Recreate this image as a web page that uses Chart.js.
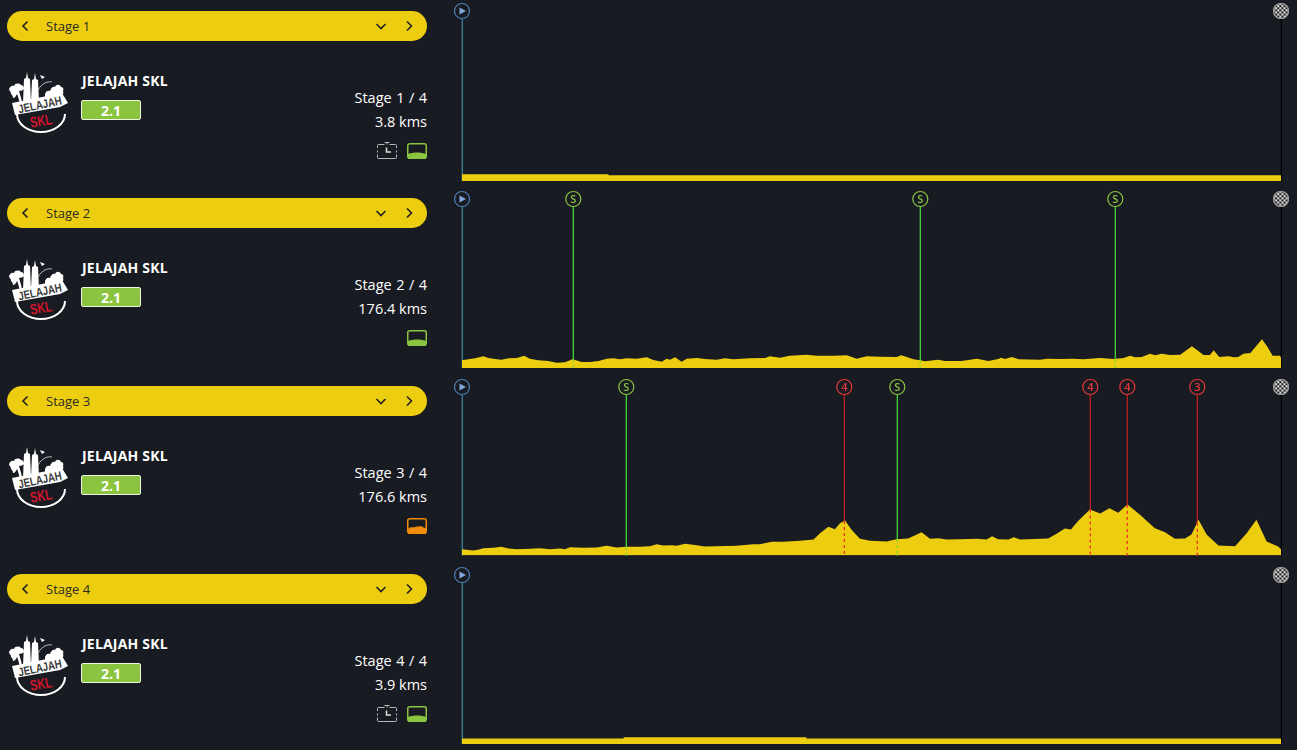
<!DOCTYPE html>
<html>
<head>
<meta charset="utf-8">
<title>Jelajah SKL</title>
<script src="https://cdn.jsdelivr.net/npm/chart.js@4"></script>
<style>
    html, body { margin: 0; padding: 0; background: #191b22; overflow: hidden; }
    body { position: relative; width: 1297px; height: 750px; font-family: "Open Sans", sans-serif; color: #fff; }
    .row { position: absolute; left: 0; width: 440px; height: 188px; }
    .pill { position: absolute; left: 7px; top: 11px; width: 420px; height: 30px; border-radius: 15px; background: #edcd0f; }
    .pill-label { position: absolute; left: 39px; top: 0; line-height: 30px; font-size: 13px; color: #2a2a22; }
    .pill svg { position: absolute; top: 8px; width: 14px; height: 14px; fill: none; stroke: #222; stroke-width: 1.6; }
    .logo { position: absolute; left: 8px; top: 70px; width: 62px; height: 64px; }
    .race { position: absolute; left: 82px; top: 71px; font-size: 14px; line-height: 20px; font-weight: 700; letter-spacing: 0.2px; }
    .badge { position: absolute; left: 81px; top: 100px; width: 58px; height: 18px; border: 1px solid #eef5e2; border-radius: 2px; background: #8bc43f; text-align: center; font-size: 14px; line-height: 19px; font-weight: 700; }
    .stage-no, .stage-km { position: absolute; right: 13px; font-size: 14.5px; line-height: 20px; white-space: nowrap; }
    .stage-no { top: 88px; word-spacing: 0.7px; }
    .stage-km { top: 112px; }
    .icon { position: absolute; top: 142px; width: 20px; height: 18px; }
    canvas { position: absolute; left: 450px; }
</style>
</head>
<body>
<svg width="0" height="0" style="position:absolute">
    <symbol id="logo" viewBox="0 0 62 64">
        <path d="M19 2l1 6 2 1 1 24h-8l1-24 2-1zM27 3l1 6 2 1 1 22h-8l1-22 2-1z" fill="#fff"/>
        <path d="M32 5l5 2-3 2z" fill="#fff"/>
        <path d="M30 20c4-7 10-9 14-8" fill="none" stroke="#fff" stroke-width="0.7"/>
        <path d="M37 24c1-3 3-4 5-3 1-3 3-5 5-4 1-3 5-3 6 0 2 0 3 2 2 4 1 2 0 4-2 4l-15 4c-1-1-1-3-1-5z" fill="#fff"/>
        <path d="M1 20c0-3 3-5 5-4 1-3 5-3 7-1 2 0 3 2 3 4-1 1-3 2-5 2 1 4 3 8 3 13h-2c-1-4-2-8-3-10-1 2-2 4-4 4 0-2-1-3-2-4 0-2-1-3-2-4z" fill="#fff"/>
        <path d="M9 44a24 18 0 0 0 48 0z" fill="#191b22" stroke="none"/>
        <path d="M9 44a24 18 0 0 0 48 0" fill="none" stroke="#fff" stroke-width="2"/>
        <path d="M4 33l50-10 6 10-8 4-45 8z" fill="#fff"/>
        <text x="32" y="39" transform="rotate(-12 32 35)" text-anchor="middle" textLength="44" lengthAdjust="spacingAndGlyphs" font-family="Liberation Sans Narrow, Liberation Sans" font-size="12" font-weight="700" fill="#3a3a3a">JELAJAH</text>
        <text x="33" y="56" transform="rotate(-10 33 51)" text-anchor="middle" textLength="22" lengthAdjust="spacingAndGlyphs" font-family="Liberation Sans Narrow, Liberation Sans" font-size="15" font-weight="700" fill="#d2142c">SKL</text>
    </symbol>
    <symbol id="clock" viewBox="0 0 20 18">
        <path d="M0.500 6V3.500a1 1 0 0 1 1-1h6M12.500 2.500h6a1 1 0 0 1 1 1V6M19.500 8.500v2M19.500 12.500v3a1 1 0 0 1-1 1h-17a1 1 0 0 1-1-1v-3M0.500 8.500v2" fill="none" stroke="#b8b8b8" stroke-width="1"/>
        <path d="M7.500 0.500h5M10 0.500v2" stroke="#b8b8b8" stroke-width="1"/>
        <path d="M9.500 5.500v4.500h4.500" fill="none" stroke="#ddd" stroke-width="1.500"/>
    </symbol>
</svg>

<script>
// Stage labels and header info
const stageNames = ["Stage 1", "Stage 2", "Stage 3", "Stage 4"];
const stageCounts = ["Stage 1 / 4", "Stage 2 / 4", "Stage 3 / 4", "Stage 4 / 4"];
const stageKmLabels = ["3.8 kms", "176.4 kms", "176.6 kms", "3.9 kms"];
const stageDistances = [3.8, 176.4, 176.6, 3.9];
const raceName = "JELAJAH SKL";
const raceClass = "2.1";
const hasClock = [true, false, false, true];
const difficultyColors = ["#8bc43f", "#8bc43f", "#f08c0a", "#8bc43f"];

// Stage profiles: distance in km, elevation in m
const stage1Km = [0, 0.68, 0.68, 3.8];
const stage1Elev = [67, 67, 57, 57];

const stage2Km = [0, 0.65, 1.7, 2.8, 4.6, 5.7, 7.1, 8.5, 10, 11.8, 13.4, 14.6, 16.4, 18.6, 20.4, 22.2, 23.8, 25.8, 27.6, 29.4, 31.2, 32.6, 34, 35.5, 37.6, 39.8, 41.2, 43, 44.1, 44.8, 45.9, 47.3, 48.4, 50.6, 52.3, 54.9, 56.6, 58.4, 62, 65.3, 66.3, 68.5, 70.6, 74.2, 76.4, 80, 82.9, 85, 87.2, 90, 93.6, 94.6, 95.8, 97.2, 98.7, 99.7, 102.6, 104, 107.6, 110.9, 113.4, 115.5, 116.1, 117, 118.4, 119.9, 124.5, 126, 128.8, 131.7, 133.9, 137.4, 140.3, 142.5, 143.9, 145, 146.4, 148.2, 149.3, 150.7, 152.5, 154.7, 157.2, 158.6, 159.7, 161.1, 161.9, 163.1, 165.1, 166.2, 167.2, 168.3, 169.8, 172.3, 173.4, 174.6, 176.2, 176.4];
const stage2Elev = [77, 83, 90, 97, 117, 100, 90, 83, 97, 100, 123, 93, 77, 70, 53, 57, 87, 60, 60, 70, 93, 97, 87, 97, 93, 107, 80, 63, 93, 83, 107, 63, 93, 100, 90, 83, 97, 87, 97, 100, 117, 103, 123, 133, 123, 123, 127, 93, 117, 113, 110, 127, 110, 87, 77, 67, 83, 70, 70, 93, 70, 90, 103, 90, 110, 87, 83, 93, 90, 93, 87, 100, 90, 100, 123, 107, 110, 143, 127, 143, 130, 133, 217, 170, 130, 130, 177, 110, 117, 107, 110, 143, 150, 287, 217, 123, 123, 100];

const stage3Km = [0, 1, 2.4, 3.5, 4.6, 6.8, 8.5, 10, 11.8, 14.7, 16.8, 19, 21.1, 22.2, 23.3, 26.2, 29, 31.2, 33.3, 35.5, 38.4, 40.5, 42, 43.4, 45.2, 46.3, 48.1, 50.6, 52.4, 59.2, 62.8, 64.2, 66.8, 69.3, 72.9, 75.8, 77.2, 79, 80.4, 81.5, 82.6, 84, 85.8, 88, 91.6, 93.7, 96.2, 99.1, 100.9, 102.7, 104.5, 107.4, 111, 113.1, 114.3, 115.6, 117.8, 119, 120.3, 126.4, 128.2, 130, 131.3, 132.9, 135.4, 137.6, 139.6, 141.5, 143.5, 146.2, 149.4, 151.6, 153.7, 155.9, 157.3, 158.8, 160.6, 163.1, 166.7, 169.2, 171.3, 173.5, 176, 176.6];
const stage3Elev = [63, 57, 50, 57, 73, 77, 87, 70, 63, 67, 73, 63, 70, 63, 83, 77, 80, 97, 80, 87, 87, 93, 113, 100, 103, 97, 117, 103, 90, 97, 113, 113, 137, 137, 147, 160, 223, 287, 263, 323, 350, 257, 167, 147, 140, 163, 170, 233, 167, 173, 160, 163, 167, 160, 193, 163, 160, 183, 160, 170, 217, 270, 260, 347, 460, 420, 473, 427, 510, 407, 273, 233, 167, 170, 210, 357, 207, 100, 93, 223, 357, 140, 90, 63];

const stage4Km = [0, 0.77, 0.77, 1.64, 1.64, 3.9];
const stage4Elev = [54, 54, 67, 67, 54, 54];

// Intermediate points per stage: km and type ("S" sprint, number = climb category)
const stage1MarkerKm = [];
const stage1MarkerType = [];
const stage2MarkerKm = [23.9, 98.75, 140.6];
const stage2MarkerType = ["S", "S", "S"];
const stage3MarkerKm = [35.3, 82.4, 93.8, 135.4, 143.4, 158.5];
const stage3MarkerType = ["S", "4", "S", "4", "4", "3"];
const stage4MarkerKm = [];
const stage4MarkerType = [];

const profilesKm = [stage1Km, stage2Km, stage3Km, stage4Km];
const profilesElev = [stage1Elev, stage2Elev, stage3Elev, stage4Elev];
const markersKm = [stage1MarkerKm, stage2MarkerKm, stage3MarkerKm, stage4MarkerKm];
const markersType = [stage1MarkerType, stage2MarkerType, stage3MarkerType, stage4MarkerType];

// Layout of the rows on the page
const panelTops = [0, 187, 375, 563];
const chartTops = [0, 188, 376, 564];
const rowBottomPadding = [7, 8, 8.5, 8];
const yMaxima = [1700, 1690, 1685, 1690];

const BG = "#191b22";
const YELLOW = "#edcd0f";
const GREEN = "#8bc43f";
const RED = "#e8383a";

/**
 * Finds the elevation on the profile at given distance
 * @param {Array} km Profile distances
 * @param {Array} elev Profile elevations
 * @param {Number} at Distance
 * @returns {Number} elevation
 */
function _elevationAt(km, elev, at) {
    for (let i = 1; i < km.length; i++) {
        if (at <= km[i]) {
            const span = km[i] - km[i - 1] || 1;
            return elev[i - 1] + ((elev[i] - elev[i - 1]) * (at - km[i - 1])) / span;
        }
    }
    return elev[elev.length - 1];
}

/**
 * Draws round marker with a letter
 */
function _drawBadge(ctx, x, y, color, label) {
    ctx.beginPath();
    ctx.arc(x, y, 7.5, 0, Math.PI * 2);
    ctx.fillStyle = BG;
    ctx.fill();
    ctx.lineWidth = 1.2;
    ctx.strokeStyle = color;
    ctx.stroke();
    ctx.fillStyle = color;
    ctx.font = "600 11px 'Open Sans'";
    ctx.textAlign = "center";
    ctx.textBaseline = "middle";
    ctx.fillText(label, x, y + 0.5);
}

/**
 * Draws start icon
 */
function _drawStart(ctx, x, y) {
    ctx.beginPath();
    ctx.arc(x, y, 7.5, 0, Math.PI * 2);
    ctx.fillStyle = BG;
    ctx.fill();
    ctx.lineWidth = 1.2;
    ctx.strokeStyle = "#4f7fb4";
    ctx.stroke();
    ctx.beginPath();
    ctx.moveTo(x - 2.5, y - 3.5);
    ctx.lineTo(x + 4, y);
    ctx.lineTo(x - 2.5, y + 3.5);
    ctx.closePath();
    ctx.fillStyle = "#7fa8dc";
    ctx.fill();
}

/**
 * Draws checkered finish icon
 */
function _drawFinish(ctx, x, y) {
    ctx.save();
    ctx.beginPath();
    ctx.arc(x, y, 8, 0, Math.PI * 2);
    ctx.clip();
    ctx.fillStyle = "#d8d8d8";
    ctx.fillRect(x - 8, y - 8, 16, 16);
    ctx.fillStyle = "#222";
    for (let i = 0; i < 8; i++) {
        for (let j = 0; j < 8; j++) {
            if ((i + j) % 2 === 0) ctx.fillRect(x - 8 + i * 2.1, y - 8 + j * 2.1, 2.1, 2.1);
        }
    }
    ctx.restore();
    ctx.beginPath();
    ctx.arc(x, y, 7.5, 0, Math.PI * 2);
    ctx.lineWidth = 1.2;
    ctx.strokeStyle = "#9a9a9a";
    ctx.stroke();
}

// Draws start, finish and intermediate points through the chart's scales
const stageMarkers = {
    id: "stageMarkers",
    beforeDatasetsDraw(chart) {
        const { ctx, scales, chartArea } = chart;
        const stage = chart.options.plugins.stageMarkers.stage;
        ctx.save();
        ctx.lineWidth = 1.2;
        const vline = (km, color) => {
            const x = Math.round(scales.x.getPixelForValue(km)) + 0.3;
            ctx.strokeStyle = color;
            ctx.beginPath();
            ctx.moveTo(x, chartArea.top);
            ctx.lineTo(x, chartArea.bottom);
            ctx.stroke();
        };
        vline(0, "#3f8ea6");
        vline(stageDistances[stage], "#000");
        markersKm[stage].forEach((km, i) => {
            vline(km, markersType[stage][i] === "S" ? "#40e838" : "#c82024");
        });
        ctx.restore();
    },
    afterDatasetsDraw(chart) {
        const { ctx, scales, chartArea } = chart;
        const stage = chart.options.plugins.stageMarkers.stage;
        ctx.save();
        markersKm[stage].forEach((km, i) => {
            const x = Math.round(scales.x.getPixelForValue(km)) + 0.3;
            const isSprint = markersType[stage][i] === "S";
            const top = scales.y.getPixelForValue(_elevationAt(profilesKm[stage], profilesElev[stage], km));
            ctx.strokeStyle = isSprint ? "#7fd62a" : "#e8242a";
            ctx.lineWidth = 1.2;
            ctx.setLineDash([3, 3]);
            ctx.beginPath();
            ctx.moveTo(x, top);
            ctx.lineTo(x, chartArea.bottom);
            ctx.stroke();
            ctx.setLineDash([]);
            _drawBadge(ctx, x, chartArea.top, isSprint ? GREEN : RED, markersType[stage][i]);
        });
        _drawStart(ctx, scales.x.getPixelForValue(0), chartArea.top);
        _drawFinish(ctx, scales.x.getPixelForValue(stageDistances[stage]), chartArea.top);
        ctx.restore();
    },
};

/**
 * Creates left panel of one stage
 * @param {Number} stage Stage index
 */
function _createRow(stage) {
    const row = document.createElement("div");
    row.className = "row";
    row.style.top = `${panelTops[stage]}px`;

    const clock = hasClock[stage]
        ? `<svg class="icon" style="left:377px"><use href="#clock"/></svg>`
        : "";
    const color = difficultyColors[stage];
    const hillPath = stage === 2
        ? "M1 12 C4 9 6 11 8 10 C10 9 12 10 14 9 C16 10 17 11 19 11 V17 H1 Z"
        : "M1 12 C6 10 14 10 19 12 V17 H1 Z";

    row.innerHTML = `
        <div class="pill">
            <svg style="left:11px" viewBox="0 0 14 14"><path d="M9.500 2.500 L5 7 L9.500 11.500"/></svg>
            <div class="pill-label">${stageNames[stage]}</div>
            <svg style="left:367px" viewBox="0 0 14 14"><path d="M2.500 5 L7 9.500 L11.500 5"/></svg>
            <svg style="left:395px" viewBox="0 0 14 14"><path d="M5 2.500 L9.500 7 L5 11.500"/></svg>
        </div>
        <svg class="logo"><use href="#logo"/></svg>
        <div class="race">${raceName}</div>
        <div class="badge">${raceClass}</div>
        <div class="stage-no">${stageCounts[stage]}</div>
        <div class="stage-km">${stageKmLabels[stage]}</div>
        ${clock}
        <svg class="icon" style="left:407px" viewBox="0 0 20 18">
            <rect x="0.750" y="1.750" width="18.500" height="14.500" rx="2" fill="none" stroke="${color}" stroke-width="1.500"/>
            <path d="${hillPath}" fill="${color}"/>
        </svg>`;
    document.body.appendChild(row);
}

/**
 * Creates profile chart of one stage
 * @param {Number} stage Stage index
 */
function _createChart(stage) {
    const canvas = document.createElement("canvas");
    canvas.width = 847;
    canvas.height = 188;
    canvas.style.width = "847px";
    canvas.style.height = "188px";
    canvas.style.top = `${chartTops[stage]}px`;
    document.body.appendChild(canvas);

    new Chart(canvas, {
        type: "line",
        data: {
            datasets: [
                {
                    data: profilesKm[stage].map((km, i) => ({ x: km, y: profilesElev[stage][i] })),
                    borderWidth: 0,
                    pointRadius: 0,
                    tension: 0,
                    fill: "origin",
                    backgroundColor: YELLOW,
                    clip: false,
                },
            ],
        },
        options: {
            responsive: false,
            animation: false,
            layout: { padding: { left: 12, right: 16, top: 11, bottom: rowBottomPadding[stage] } },
            scales: {
                x: { type: "linear", display: false, min: 0, max: stageDistances[stage] },
                y: { display: false, min: 0, max: yMaxima[stage] },
            },
            plugins: {
                legend: { display: false },
                tooltip: { enabled: false },
                stageMarkers: { stage: stage },
            },
        },
        plugins: [stageMarkers],
    });
}

stageNames.forEach((name, stage) => {
    _createRow(stage);
    _createChart(stage);
});
</script>
</body>
</html>
